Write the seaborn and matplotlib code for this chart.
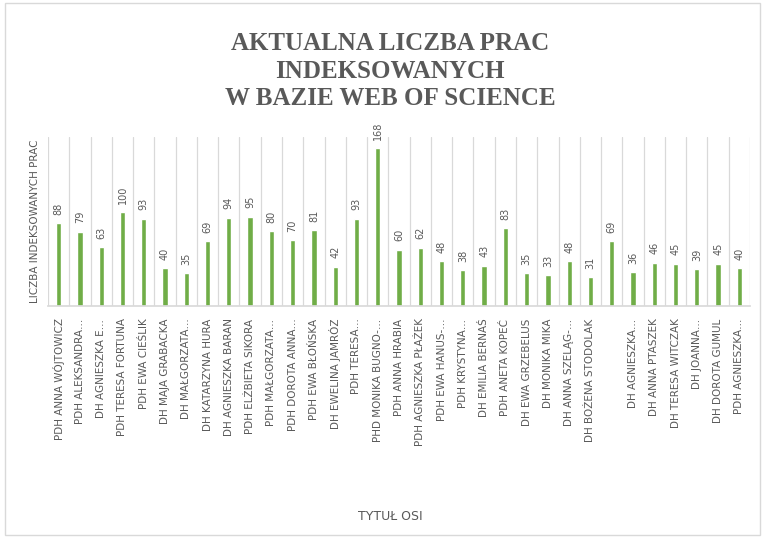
import matplotlib
matplotlib.use("Agg")
import matplotlib.pyplot as plt
from matplotlib.patches import Rectangle
import seaborn as sns

names = [
    "PDH ANNA WÓJTOWICZ", "PDH ALEKSANDRA…", "DH AGNIESZKA E…",
    "PDH TERESA FORTUNA", "PDH EWA CIEŚLIK", "DH MAJA GRABACKA",
    "DH MAŁGORZATA…", "DH KATARZYNA HURA", "DH AGNIESZKA BARAN",
    "PDH ELŻBIETA SIKORA", "PDH MAŁGORZATA…", "PDH DOROTA ANNA…",
    "PDH EWA BŁOŃSKA", "DH EWELINA JAMRÓZ", "PDH TERESA…",
    "PHD MONIKA BUGNO-…", "PDH ANNA HRABIA", "PDH AGNIESZKA PŁAŻEK",
    "PDH EWA HANUS-…", "PDH KRYSTYNA…", "DH EMILIA BERNAŚ",
    "PDH ANETA KOPEĆ", "DH EWA GRZEBELUS", "DH MONIKA MIKA",
    "DH ANNA SZELĄG-…", "DH BOŻENA STODOLAK", "",
    "DH AGNIESZKA…", "DH ANNA PTASZEK", "DH TERESA WITCZAK",
    "DH JOANNA…", "DH DOROTA GUMUL", "PDH AGNIESZKA…",
]
prace = [88, 79, 63, 100, 93, 40, 35, 69, 94, 95, 80, 70, 81, 42, 93,
         168, 60, 62, 48, 38, 43, 83, 35, 33, 48, 31, 69, 36, 46, 45,
         39, 45, 40]

title = "AKTUALNA LICZBA PRAC\nINDEKSOWANYCH\nW BAZIE WEB OF SCIENCE"
grey = "#595959"
green = "#70AD47"

sns.set_theme(style="white")
narrow = ["Liberation Sans Narrow", "DejaVu Sans"]

fig = plt.figure(figsize=(7.63, 5.38), dpi=100)
ax = fig.add_axes([48 / 763, 1 - 306 / 538, 702 / 763, 169 / 538])

pos = list(range(len(prace)))
sns.barplot(x=pos, y=prace, color=green, width=0.25, saturation=1, ax=ax)

for i, v in zip(pos, prace):
    ax.annotate(str(v), (i, v), xytext=(0, 6), textcoords="offset points",
                rotation=90, ha="center", va="bottom", fontsize=7, color=grey)

ax.set_ylim(0, 180)
ax.set_xlim(-0.5, len(prace) - 0.5)
ax.set_yticks([])
ax.set_xticks(pos)
ax.set_xticklabels(names, rotation=90, fontsize=7.5, color=grey)
ax.tick_params(axis="x", length=0, pad=9)
ax.set_xticks([p - 0.5 for p in pos] + [len(prace) - 0.5], minor=True)
ax.grid(True, axis="x", which="minor", color="#d9d9d9", linewidth=0.9)
ax.grid(False, axis="x", which="major")
ax.tick_params(axis="x", which="minor", length=0)

for s in ["top", "right", "left"]:
    ax.spines[s].set_visible(False)
ax.spines["bottom"].set_color("#d9d9d9")

ax.set_ylabel("LICZBA INDEKSOWANYCH PRAC", fontsize=7.5, color=grey,
              family=narrow, labelpad=6)
ax.set_xlabel("")

fig.text(390 / 763, 1 - 71 / 538, title, ha="center", va="center",
         fontsize=18, fontweight="bold", color=grey,
         family=["Liberation Serif", "DejaVu Serif"], linespacing=1.25)
fig.text(390 / 763, 1 - 517 / 538, "TYTUŁ OSI", ha="center", va="center",
         fontsize=9, color=grey, family=narrow)

fig.patches.append(Rectangle((5 / 763, 3 / 538), 755 / 763, 532 / 538,
                             transform=fig.transFigure, fill=False,
                             edgecolor="#d9d9d9", linewidth=1))

fig.savefig("out.png", dpi=100)
